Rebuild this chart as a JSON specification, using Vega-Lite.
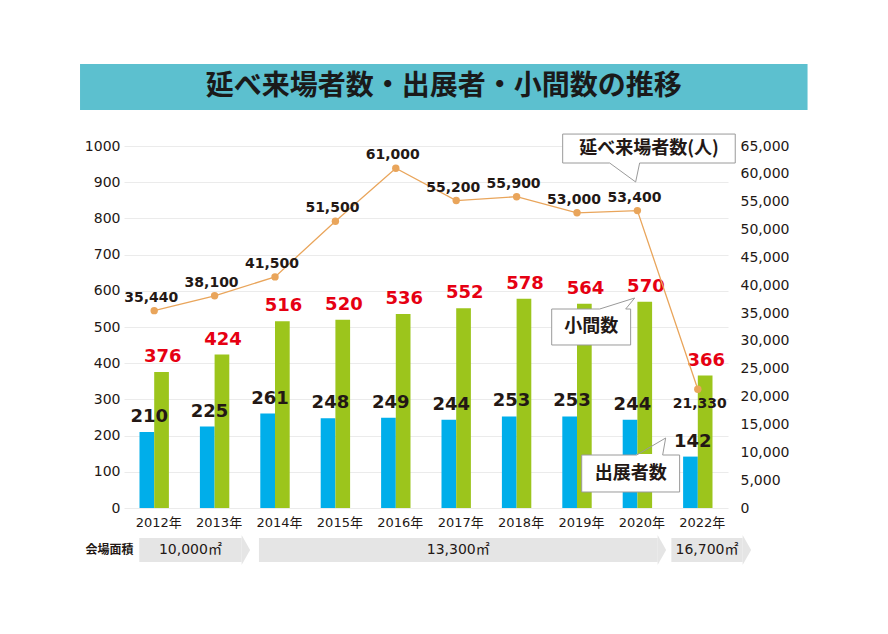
{
  "$schema": "https://vega.github.io/schema/vega-lite/v6.json",
  "background": "white",
  "padding": {"left": 80, "top": 64, "right": 10, "bottom": 10},
  "width": 604,
  "height": 362,
  "config": {"view": {"stroke": null}, "font": "DejaVu Sans"},
  "datasets": {
    "main": [
      {"i": 0, "year": "2012年", "exhib": 210, "koma": 376, "visitors": 35440},
      {"i": 1, "year": "2013年", "exhib": 225, "koma": 424, "visitors": 38100},
      {"i": 2, "year": "2014年", "exhib": 261, "koma": 516, "visitors": 41500},
      {"i": 3, "year": "2015年", "exhib": 248, "koma": 520, "visitors": 51500},
      {"i": 4, "year": "2016年", "exhib": 249, "koma": 536, "visitors": 61000},
      {"i": 5, "year": "2017年", "exhib": 244, "koma": 552, "visitors": 55200},
      {"i": 6, "year": "2018年", "exhib": 253, "koma": 578, "visitors": 55900},
      {"i": 7, "year": "2019年", "exhib": 253, "koma": 564, "visitors": 53000},
      {"i": 8, "year": "2020年", "exhib": 244, "koma": 570, "visitors": 53400},
      {"i": 9, "year": "2022年", "exhib": 142, "koma": 366, "visitors": 21330}
    ],
    "banner": [
      {"t": "延べ来場者数・出展者・小間数の推移", "x1": -1.228, "x2": 10.817, "y1": 1099.4, "y2": 1226.5}
    ],
    "areas": [
      {"label": "10,000㎡", "start": -0.247, "end": 1.447},
      {"label": "13,300㎡", "start": 1.734, "end": 8.335},
      {"label": "16,700㎡", "start": 8.562, "end": 9.742}
    ],
    "callouts": [
      {"id": "v", "label": "延べ来場者数(人)", "x1": 6.763, "x2": 9.62, "y1": 953, "y2": 1033},
      {"id": "k", "label": "小間数", "x1": 6.581, "x2": 7.888, "y1": 450.3, "y2": 549.7},
      {"id": "e", "label": "出展者数", "x1": 7.078, "x2": 8.699, "y1": 44.2, "y2": 146.4}
    ],
    "tails": [
      {"id": "v", "xa": 7.541, "xb": 8.037, "yb": 953, "tx": 7.971, "ty": 900.6},
      {"id": "k", "xa": 7.376, "xb": 7.806, "yb": 549.7, "tx": 7.955, "ty": 580.1},
      {"id": "e", "xa": 7.988, "xb": 8.418, "yb": 146.4, "tx": 8.468, "ty": 193.4}
    ]
  },
  "layer": [
    {
      "layer": [
        {
          "data": {"name": "banner"},
          "mark": {"type": "rect", "color": "#5cc0cf", "clip": false},
          "encoding": {
            "x": {"field": "x1", "type": "quantitative", "title": null, "scale": {"domain": [-0.5, 9.5], "nice": false, "zero": false, "padding": 0}, "axis": {"values": [0, 1, 2, 3, 4, 5, 6, 7, 8, 9], "labelExpr": "['2012年','2013年','2014年','2015年','2016年','2017年','2018年','2019年','2020年','2022年'][datum.value]", "domain": false, "ticks": false, "grid": false, "labelFontSize": 13, "labelFont": "DejaVu Sans, Noto Sans CJK JP", "labelColor": "#231815", "labelPadding": 8, "labelOffset": 4, "labelFlush": false, "labelOverlap": false}},
            "x2": {"field": "x2"},
            "y": {"field": "y1", "type": "quantitative", "title": null, "scale": {"domain": [0, 1000], "nice": false, "padding": 0}, "axis": {"orient": "left", "values": [0, 100, 200, 300, 400, 500, 600, 700, 800, 900, 1000], "labelExpr": "format(datum.value, 'd')", "domain": false, "ticks": false, "grid": true, "gridColor": "#ebebeb", "labelFontSize": 14, "labelColor": "#231815", "labelPadding": 4, "labelFont": "DejaVu Sans", "labelFlush": false}},
            "y2": {"field": "y2"}
          }
        },
        {
          "data": {"name": "banner"},
          "transform": [
            {"calculate": "(datum.x1 + datum.x2) / 2", "as": "cx"},
            {"calculate": "(datum.y1 + datum.y2) / 2", "as": "cy"}
          ],
          "mark": {"type": "text", "font": "Noto Sans CJK JP", "fontWeight": "bold", "fontSize": 28, "color": "#1a1a1a", "baseline": "middle", "align": "center", "clip": false},
          "encoding": {
            "x": {"field": "cx", "type": "quantitative", "title": null, "axis": {"values": [0, 1, 2, 3, 4, 5, 6, 7, 8, 9], "labelExpr": "['2012年','2013年','2014年','2015年','2016年','2017年','2018年','2019年','2020年','2022年'][datum.value]", "domain": false, "ticks": false, "grid": false, "labelFontSize": 13, "labelFont": "DejaVu Sans, Noto Sans CJK JP", "labelColor": "#231815", "labelPadding": 8, "labelOffset": 4, "labelFlush": false, "labelOverlap": false}},
            "y": {"field": "cy", "type": "quantitative", "title": null, "axis": {"orient": "left", "values": [0, 100, 200, 300, 400, 500, 600, 700, 800, 900, 1000], "labelExpr": "format(datum.value, 'd')", "domain": false, "ticks": false, "grid": true, "gridColor": "#ebebeb", "labelFontSize": 14, "labelColor": "#231815", "labelPadding": 4, "labelFont": "DejaVu Sans", "labelFlush": false}},
            "text": {"field": "t", "type": "nominal"}
          }
        },
        {
          "data": {"name": "main"},
          "mark": {"type": "bar", "width": 14.7, "xOffset": -7.35, "color": "#00aeea", "clip": false},
          "encoding": {
            "x": {"field": "i", "type": "quantitative", "title": null, "axis": {"values": [0, 1, 2, 3, 4, 5, 6, 7, 8, 9], "labelExpr": "['2012年','2013年','2014年','2015年','2016年','2017年','2018年','2019年','2020年','2022年'][datum.value]", "domain": false, "ticks": false, "grid": false, "labelFontSize": 13, "labelFont": "DejaVu Sans, Noto Sans CJK JP", "labelColor": "#231815", "labelPadding": 8, "labelOffset": 4, "labelFlush": false, "labelOverlap": false}},
            "y": {"field": "exhib", "type": "quantitative", "title": null, "axis": {"orient": "left", "values": [0, 100, 200, 300, 400, 500, 600, 700, 800, 900, 1000], "labelExpr": "format(datum.value, 'd')", "domain": false, "ticks": false, "grid": true, "gridColor": "#ebebeb", "labelFontSize": 14, "labelColor": "#231815", "labelPadding": 4, "labelFont": "DejaVu Sans", "labelFlush": false}}
          }
        },
        {
          "data": {"name": "main"},
          "mark": {"type": "bar", "width": 14.7, "xOffset": 7.35, "color": "#9cc51c", "clip": false},
          "encoding": {
            "x": {"field": "i", "type": "quantitative", "title": null, "axis": {"values": [0, 1, 2, 3, 4, 5, 6, 7, 8, 9], "labelExpr": "['2012年','2013年','2014年','2015年','2016年','2017年','2018年','2019年','2020年','2022年'][datum.value]", "domain": false, "ticks": false, "grid": false, "labelFontSize": 13, "labelFont": "DejaVu Sans, Noto Sans CJK JP", "labelColor": "#231815", "labelPadding": 8, "labelOffset": 4, "labelFlush": false, "labelOverlap": false}},
            "y": {"field": "koma", "type": "quantitative", "title": null, "axis": {"orient": "left", "values": [0, 100, 200, 300, 400, 500, 600, 700, 800, 900, 1000], "labelExpr": "format(datum.value, 'd')", "domain": false, "ticks": false, "grid": true, "gridColor": "#ebebeb", "labelFontSize": 14, "labelColor": "#231815", "labelPadding": 4, "labelFont": "DejaVu Sans", "labelFlush": false}}
          }
        },
        {
          "data": {"name": "main"},
          "mark": {"type": "text", "font": "DejaVu Sans", "fontWeight": "bold", "fontSize": 18, "color": "#231815", "dx": -5, "dy": -10, "baseline": "alphabetic", "align": "center"},
          "encoding": {
            "x": {"field": "i", "type": "quantitative", "title": null, "axis": {"values": [0, 1, 2, 3, 4, 5, 6, 7, 8, 9], "labelExpr": "['2012年','2013年','2014年','2015年','2016年','2017年','2018年','2019年','2020年','2022年'][datum.value]", "domain": false, "ticks": false, "grid": false, "labelFontSize": 13, "labelFont": "DejaVu Sans, Noto Sans CJK JP", "labelColor": "#231815", "labelPadding": 8, "labelOffset": 4, "labelFlush": false, "labelOverlap": false}},
            "y": {"field": "exhib", "type": "quantitative", "title": null, "axis": {"orient": "left", "values": [0, 100, 200, 300, 400, 500, 600, 700, 800, 900, 1000], "labelExpr": "format(datum.value, 'd')", "domain": false, "ticks": false, "grid": true, "gridColor": "#ebebeb", "labelFontSize": 14, "labelColor": "#231815", "labelPadding": 4, "labelFont": "DejaVu Sans", "labelFlush": false}},
            "text": {"field": "exhib", "type": "quantitative"}
          }
        },
        {
          "data": {"name": "main"},
          "mark": {"type": "text", "font": "DejaVu Sans", "fontWeight": "bold", "fontSize": 18, "color": "#e60012", "dx": 8.5, "dy": -10, "baseline": "alphabetic", "align": "center"},
          "encoding": {
            "x": {"field": "i", "type": "quantitative", "title": null, "axis": {"values": [0, 1, 2, 3, 4, 5, 6, 7, 8, 9], "labelExpr": "['2012年','2013年','2014年','2015年','2016年','2017年','2018年','2019年','2020年','2022年'][datum.value]", "domain": false, "ticks": false, "grid": false, "labelFontSize": 13, "labelFont": "DejaVu Sans, Noto Sans CJK JP", "labelColor": "#231815", "labelPadding": 8, "labelOffset": 4, "labelFlush": false, "labelOverlap": false}},
            "y": {"field": "koma", "type": "quantitative", "title": null, "axis": {"orient": "left", "values": [0, 100, 200, 300, 400, 500, 600, 700, 800, 900, 1000], "labelExpr": "format(datum.value, 'd')", "domain": false, "ticks": false, "grid": true, "gridColor": "#ebebeb", "labelFontSize": 14, "labelColor": "#231815", "labelPadding": 4, "labelFont": "DejaVu Sans", "labelFlush": false}},
            "text": {"field": "koma", "type": "quantitative"}
          }
        },
        {
          "data": {"name": "areas"},
          "mark": {"type": "rect", "color": "#e5e5e5", "clip": false},
          "encoding": {
            "x": {"field": "start", "type": "quantitative", "title": null, "axis": {"values": [0, 1, 2, 3, 4, 5, 6, 7, 8, 9], "labelExpr": "['2012年','2013年','2014年','2015年','2016年','2017年','2018年','2019年','2020年','2022年'][datum.value]", "domain": false, "ticks": false, "grid": false, "labelFontSize": 13, "labelFont": "DejaVu Sans, Noto Sans CJK JP", "labelColor": "#231815", "labelPadding": 8, "labelOffset": 4, "labelFlush": false, "labelOverlap": false}},
            "x2": {"field": "end"},
            "y": {"datum": -83, "type": "quantitative", "title": null, "axis": {"orient": "left", "values": [0, 100, 200, 300, 400, 500, 600, 700, 800, 900, 1000], "labelExpr": "format(datum.value, 'd')", "domain": false, "ticks": false, "grid": true, "gridColor": "#ebebeb", "labelFontSize": 14, "labelColor": "#231815", "labelPadding": 4, "labelFont": "DejaVu Sans", "labelFlush": false}},
            "y2": {"datum": -149}
          }
        },
        {
          "data": {"name": "areas"},
          "mark": {"type": "point", "shape": "M 0 -1 L 0.567 0 L 0 1 Z", "size": 900, "filled": true, "opacity": 1, "color": "#e5e5e5", "strokeWidth": 0, "clip": false},
          "encoding": {
            "x": {"field": "end", "type": "quantitative", "title": null, "axis": {"values": [0, 1, 2, 3, 4, 5, 6, 7, 8, 9], "labelExpr": "['2012年','2013年','2014年','2015年','2016年','2017年','2018年','2019年','2020年','2022年'][datum.value]", "domain": false, "ticks": false, "grid": false, "labelFontSize": 13, "labelFont": "DejaVu Sans, Noto Sans CJK JP", "labelColor": "#231815", "labelPadding": 8, "labelOffset": 4, "labelFlush": false, "labelOverlap": false}},
            "y": {"datum": -116, "type": "quantitative", "title": null, "axis": {"orient": "left", "values": [0, 100, 200, 300, 400, 500, 600, 700, 800, 900, 1000], "labelExpr": "format(datum.value, 'd')", "domain": false, "ticks": false, "grid": true, "gridColor": "#ebebeb", "labelFontSize": 14, "labelColor": "#231815", "labelPadding": 4, "labelFont": "DejaVu Sans", "labelFlush": false}}
          }
        },
        {
          "data": {"name": "areas"},
          "transform": [{"calculate": "(datum.start + datum.end) / 2", "as": "mid"}],
          "mark": {"type": "text", "font": "DejaVu Sans, Noto Sans CJK JP", "fontSize": 14, "color": "#231815", "baseline": "middle", "align": "center", "clip": false},
          "encoding": {
            "x": {"field": "mid", "type": "quantitative", "title": null, "axis": {"values": [0, 1, 2, 3, 4, 5, 6, 7, 8, 9], "labelExpr": "['2012年','2013年','2014年','2015年','2016年','2017年','2018年','2019年','2020年','2022年'][datum.value]", "domain": false, "ticks": false, "grid": false, "labelFontSize": 13, "labelFont": "DejaVu Sans, Noto Sans CJK JP", "labelColor": "#231815", "labelPadding": 8, "labelOffset": 4, "labelFlush": false, "labelOverlap": false}},
            "y": {"datum": -116, "type": "quantitative", "title": null, "axis": {"orient": "left", "values": [0, 100, 200, 300, 400, 500, 600, 700, 800, 900, 1000], "labelExpr": "format(datum.value, 'd')", "domain": false, "ticks": false, "grid": true, "gridColor": "#ebebeb", "labelFontSize": 14, "labelColor": "#231815", "labelPadding": 4, "labelFont": "DejaVu Sans", "labelFlush": false}},
            "text": {"field": "label", "type": "nominal"}
          }
        },
        {
          "data": {"values": [{"t": "会場面積"}]},
          "mark": {"type": "text", "font": "Noto Sans CJK JP", "fontWeight": "bold", "fontSize": 12, "color": "#231815", "baseline": "middle", "align": "center", "clip": false},
          "encoding": {
            "x": {"datum": -0.74, "type": "quantitative", "title": null, "axis": {"values": [0, 1, 2, 3, 4, 5, 6, 7, 8, 9], "labelExpr": "['2012年','2013年','2014年','2015年','2016年','2017年','2018年','2019年','2020年','2022年'][datum.value]", "domain": false, "ticks": false, "grid": false, "labelFontSize": 13, "labelFont": "DejaVu Sans, Noto Sans CJK JP", "labelColor": "#231815", "labelPadding": 8, "labelOffset": 4, "labelFlush": false, "labelOverlap": false}},
            "y": {"datum": -116, "type": "quantitative", "title": null, "axis": {"orient": "left", "values": [0, 100, 200, 300, 400, 500, 600, 700, 800, 900, 1000], "labelExpr": "format(datum.value, 'd')", "domain": false, "ticks": false, "grid": true, "gridColor": "#ebebeb", "labelFontSize": 14, "labelColor": "#231815", "labelPadding": 4, "labelFont": "DejaVu Sans", "labelFlush": false}},
            "text": {"field": "t", "type": "nominal"}
          }
        },
        {
          "data": {"name": "callouts"},
          "mark": {"type": "rect", "fill": "white", "stroke": "#9a9a9a", "strokeWidth": 1, "clip": false},
          "encoding": {
            "x": {"field": "x1", "type": "quantitative", "title": null, "axis": {"values": [0, 1, 2, 3, 4, 5, 6, 7, 8, 9], "labelExpr": "['2012年','2013年','2014年','2015年','2016年','2017年','2018年','2019年','2020年','2022年'][datum.value]", "domain": false, "ticks": false, "grid": false, "labelFontSize": 13, "labelFont": "DejaVu Sans, Noto Sans CJK JP", "labelColor": "#231815", "labelPadding": 8, "labelOffset": 4, "labelFlush": false, "labelOverlap": false}},
            "x2": {"field": "x2"},
            "y": {"field": "y1", "type": "quantitative", "title": null, "axis": {"orient": "left", "values": [0, 100, 200, 300, 400, 500, 600, 700, 800, 900, 1000], "labelExpr": "format(datum.value, 'd')", "domain": false, "ticks": false, "grid": true, "gridColor": "#ebebeb", "labelFontSize": 14, "labelColor": "#231815", "labelPadding": 4, "labelFont": "DejaVu Sans", "labelFlush": false}},
            "y2": {"field": "y2"}
          }
        },
        {
          "data": {"name": "tails"},
          "mark": {"type": "rule", "color": "white", "strokeWidth": 2, "clip": false},
          "encoding": {
            "x": {"field": "xa", "type": "quantitative", "title": null, "axis": {"values": [0, 1, 2, 3, 4, 5, 6, 7, 8, 9], "labelExpr": "['2012年','2013年','2014年','2015年','2016年','2017年','2018年','2019年','2020年','2022年'][datum.value]", "domain": false, "ticks": false, "grid": false, "labelFontSize": 13, "labelFont": "DejaVu Sans, Noto Sans CJK JP", "labelColor": "#231815", "labelPadding": 8, "labelOffset": 4, "labelFlush": false, "labelOverlap": false}},
            "x2": {"field": "xb"},
            "y": {"field": "yb", "type": "quantitative", "title": null, "axis": {"orient": "left", "values": [0, 100, 200, 300, 400, 500, 600, 700, 800, 900, 1000], "labelExpr": "format(datum.value, 'd')", "domain": false, "ticks": false, "grid": true, "gridColor": "#ebebeb", "labelFontSize": 14, "labelColor": "#231815", "labelPadding": 4, "labelFont": "DejaVu Sans", "labelFlush": false}}
          }
        },
        {
          "data": {"name": "tails"},
          "mark": {"type": "rule", "color": "#9a9a9a", "strokeWidth": 1, "clip": false},
          "encoding": {
            "x": {"field": "xa", "type": "quantitative", "title": null, "axis": {"values": [0, 1, 2, 3, 4, 5, 6, 7, 8, 9], "labelExpr": "['2012年','2013年','2014年','2015年','2016年','2017年','2018年','2019年','2020年','2022年'][datum.value]", "domain": false, "ticks": false, "grid": false, "labelFontSize": 13, "labelFont": "DejaVu Sans, Noto Sans CJK JP", "labelColor": "#231815", "labelPadding": 8, "labelOffset": 4, "labelFlush": false, "labelOverlap": false}},
            "x2": {"field": "tx"},
            "y": {"field": "yb", "type": "quantitative", "title": null, "axis": {"orient": "left", "values": [0, 100, 200, 300, 400, 500, 600, 700, 800, 900, 1000], "labelExpr": "format(datum.value, 'd')", "domain": false, "ticks": false, "grid": true, "gridColor": "#ebebeb", "labelFontSize": 14, "labelColor": "#231815", "labelPadding": 4, "labelFont": "DejaVu Sans", "labelFlush": false}},
            "y2": {"field": "ty"}
          }
        },
        {
          "data": {"name": "tails"},
          "mark": {"type": "rule", "color": "#9a9a9a", "strokeWidth": 1, "clip": false},
          "encoding": {
            "x": {"field": "xb", "type": "quantitative", "title": null, "axis": {"values": [0, 1, 2, 3, 4, 5, 6, 7, 8, 9], "labelExpr": "['2012年','2013年','2014年','2015年','2016年','2017年','2018年','2019年','2020年','2022年'][datum.value]", "domain": false, "ticks": false, "grid": false, "labelFontSize": 13, "labelFont": "DejaVu Sans, Noto Sans CJK JP", "labelColor": "#231815", "labelPadding": 8, "labelOffset": 4, "labelFlush": false, "labelOverlap": false}},
            "x2": {"field": "tx"},
            "y": {"field": "yb", "type": "quantitative", "title": null, "axis": {"orient": "left", "values": [0, 100, 200, 300, 400, 500, 600, 700, 800, 900, 1000], "labelExpr": "format(datum.value, 'd')", "domain": false, "ticks": false, "grid": true, "gridColor": "#ebebeb", "labelFontSize": 14, "labelColor": "#231815", "labelPadding": 4, "labelFont": "DejaVu Sans", "labelFlush": false}},
            "y2": {"field": "ty"}
          }
        },
        {
          "data": {"name": "callouts"},
          "transform": [
            {"calculate": "(datum.x1 + datum.x2) / 2", "as": "cx"},
            {"calculate": "(datum.y1 + datum.y2) / 2", "as": "cy"}
          ],
          "mark": {"type": "text", "font": "Noto Sans CJK JP", "fontWeight": "bold", "fontSize": 18, "color": "#231815", "baseline": "middle", "align": "center", "clip": false},
          "encoding": {
            "x": {"field": "cx", "type": "quantitative", "title": null, "axis": {"values": [0, 1, 2, 3, 4, 5, 6, 7, 8, 9], "labelExpr": "['2012年','2013年','2014年','2015年','2016年','2017年','2018年','2019年','2020年','2022年'][datum.value]", "domain": false, "ticks": false, "grid": false, "labelFontSize": 13, "labelFont": "DejaVu Sans, Noto Sans CJK JP", "labelColor": "#231815", "labelPadding": 8, "labelOffset": 4, "labelFlush": false, "labelOverlap": false}},
            "y": {"field": "cy", "type": "quantitative", "title": null, "axis": {"orient": "left", "values": [0, 100, 200, 300, 400, 500, 600, 700, 800, 900, 1000], "labelExpr": "format(datum.value, 'd')", "domain": false, "ticks": false, "grid": true, "gridColor": "#ebebeb", "labelFontSize": 14, "labelColor": "#231815", "labelPadding": 4, "labelFont": "DejaVu Sans", "labelFlush": false}},
            "text": {"field": "label", "type": "nominal"}
          }
        }
      ]
    },
    {
      "data": {"name": "main"},
      "layer": [
        {
          "mark": {"type": "line", "color": "#e9a55b", "strokeWidth": 1.3},
          "encoding": {
            "x": {"field": "i", "type": "quantitative", "title": null, "axis": {"values": [0, 1, 2, 3, 4, 5, 6, 7, 8, 9], "labelExpr": "['2012年','2013年','2014年','2015年','2016年','2017年','2018年','2019年','2020年','2022年'][datum.value]", "domain": false, "ticks": false, "grid": false, "labelFontSize": 13, "labelFont": "DejaVu Sans, Noto Sans CJK JP", "labelColor": "#231815", "labelPadding": 8, "labelOffset": 4, "labelFlush": false, "labelOverlap": false}},
            "y": {"field": "visitors", "type": "quantitative", "title": null, "scale": {"domain": [0, 65000], "nice": false, "padding": 0}, "axis": {"orient": "right", "values": [0, 5000, 10000, 15000, 20000, 25000, 30000, 35000, 40000, 45000, 50000, 55000, 60000, 65000], "labelExpr": "format(datum.value, ',')", "domain": false, "ticks": false, "grid": false, "labelFontSize": 14, "labelColor": "#231815", "labelPadding": 12, "labelFont": "DejaVu Sans", "labelFlush": false}}
          }
        },
        {
          "mark": {"type": "point", "filled": true, "opacity": 1, "size": 55, "color": "#e9a55b"},
          "encoding": {
            "x": {"field": "i", "type": "quantitative", "title": null, "axis": {"values": [0, 1, 2, 3, 4, 5, 6, 7, 8, 9], "labelExpr": "['2012年','2013年','2014年','2015年','2016年','2017年','2018年','2019年','2020年','2022年'][datum.value]", "domain": false, "ticks": false, "grid": false, "labelFontSize": 13, "labelFont": "DejaVu Sans, Noto Sans CJK JP", "labelColor": "#231815", "labelPadding": 8, "labelOffset": 4, "labelFlush": false, "labelOverlap": false}},
            "y": {"field": "visitors", "type": "quantitative", "title": null, "axis": {"orient": "right", "values": [0, 5000, 10000, 15000, 20000, 25000, 30000, 35000, 40000, 45000, 50000, 55000, 60000, 65000], "labelExpr": "format(datum.value, ',')", "domain": false, "ticks": false, "grid": false, "labelFontSize": 14, "labelColor": "#231815", "labelPadding": 12, "labelFont": "DejaVu Sans", "labelFlush": false}}
          }
        },
        {
          "transform": [{"filter": "datum.i < 9"}],
          "mark": {"type": "text", "font": "DejaVu Sans", "fontWeight": "bold", "fontSize": 14, "color": "#231815", "dx": -3, "dy": -9, "baseline": "alphabetic", "align": "center"},
          "encoding": {
            "x": {"field": "i", "type": "quantitative", "title": null, "axis": {"values": [0, 1, 2, 3, 4, 5, 6, 7, 8, 9], "labelExpr": "['2012年','2013年','2014年','2015年','2016年','2017年','2018年','2019年','2020年','2022年'][datum.value]", "domain": false, "ticks": false, "grid": false, "labelFontSize": 13, "labelFont": "DejaVu Sans, Noto Sans CJK JP", "labelColor": "#231815", "labelPadding": 8, "labelOffset": 4, "labelFlush": false, "labelOverlap": false}},
            "y": {"field": "visitors", "type": "quantitative", "title": null, "axis": {"orient": "right", "values": [0, 5000, 10000, 15000, 20000, 25000, 30000, 35000, 40000, 45000, 50000, 55000, 60000, 65000], "labelExpr": "format(datum.value, ',')", "domain": false, "ticks": false, "grid": false, "labelFontSize": 14, "labelColor": "#231815", "labelPadding": 12, "labelFont": "DejaVu Sans", "labelFlush": false}},
            "text": {"field": "visitors", "type": "quantitative", "format": ","}
          }
        },
        {
          "transform": [{"filter": "datum.i == 9"}],
          "mark": {"type": "text", "font": "DejaVu Sans", "fontWeight": "bold", "fontSize": 14, "color": "#231815", "dx": 2, "dy": 19, "baseline": "alphabetic", "align": "center"},
          "encoding": {
            "x": {"field": "i", "type": "quantitative", "title": null, "axis": {"values": [0, 1, 2, 3, 4, 5, 6, 7, 8, 9], "labelExpr": "['2012年','2013年','2014年','2015年','2016年','2017年','2018年','2019年','2020年','2022年'][datum.value]", "domain": false, "ticks": false, "grid": false, "labelFontSize": 13, "labelFont": "DejaVu Sans, Noto Sans CJK JP", "labelColor": "#231815", "labelPadding": 8, "labelOffset": 4, "labelFlush": false, "labelOverlap": false}},
            "y": {"field": "visitors", "type": "quantitative", "title": null, "axis": {"orient": "right", "values": [0, 5000, 10000, 15000, 20000, 25000, 30000, 35000, 40000, 45000, 50000, 55000, 60000, 65000], "labelExpr": "format(datum.value, ',')", "domain": false, "ticks": false, "grid": false, "labelFontSize": 14, "labelColor": "#231815", "labelPadding": 12, "labelFont": "DejaVu Sans", "labelFlush": false}},
            "text": {"field": "visitors", "type": "quantitative", "format": ","}
          }
        }
      ]
    }
  ],
  "resolve": {"scale": {"y": "independent"}}
}
